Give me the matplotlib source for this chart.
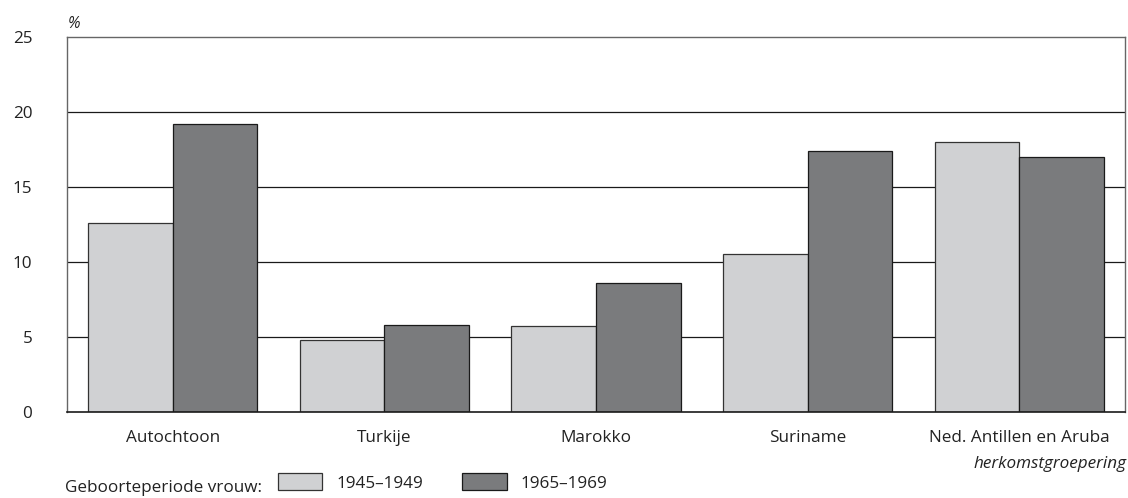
import numpy as np
import matplotlib.pyplot as plt

plt.rcParams['font.family'] = ['Open Sans', 'DejaVu Sans']

groepen = ['Autochtoon', 'Turkije', 'Marokko', 'Suriname', 'Ned. Antillen en Aruba']
periode_1945 = [12.6, 4.8, 5.7, 10.5, 18.0]
periode_1965 = [19.2, 5.8, 8.6, 17.4, 17.0]
reeks_labels = ['1945–1949', '1965–1969']
yticks = [0, 5, 10, 15, 20, 25]

fs = 12.3
tekst = '#222222'

fig = plt.figure(figsize=(11.28, 4.98), dpi=100)
ax = fig.add_axes([0.0594, 0.1727, 0.9379, 0.753])

x = np.arange(len(groepen))
w = 0.4
b1 = ax.bar(x - w/2, periode_1945, w, color='#d0d1d3', edgecolor='#333333', lw=0.9,
            label=reeks_labels[0], zorder=3)
b2 = ax.bar(x + w/2, periode_1965, w, color='#7a7b7d', edgecolor='#1a1a1a', lw=0.9,
            label=reeks_labels[1], zorder=3)

ax.set_xlim(-0.5, len(groepen) - 0.5)
ax.set_ylim(0, 25)
ax.set_yticks(yticks)
ax.set_xticks(x)
ax.set_xticklabels(groepen)
ax.tick_params(axis='y', length=0, pad=25, labelsize=fs, colors=tekst)
ax.tick_params(axis='x', length=0, pad=13, labelsize=fs, colors=tekst)
for lab in ax.get_yticklabels():
    lab.set_horizontalalignment('right')

# gridlijnen tussen 0 en 25
for v in yticks[1:-1]:
    ax.axhline(v, color='#1a1a1a', lw=0.9, zorder=1)

for s in ['left', 'right', 'top']:
    ax.spines[s].set_color('#666666')
    ax.spines[s].set_linewidth(1.0)
ax.spines['bottom'].set_color('#1a1a1a')
ax.spines['bottom'].set_linewidth(1.2)
ax.spines['bottom'].set_zorder(4)

fig.text(0.060, 0.944, '%', style='italic', fontsize=fs - 1, color=tekst, va='baseline')
fig.text(0.9985, 0.061, 'herkomstgroepering', style='italic', fontsize=fs,
         color=tekst, ha='right', va='baseline')
fig.text(0.0577, 0.012, 'Geboorteperiode vrouw:', fontsize=fs, color=tekst, va='baseline')

leg = fig.legend(handles=[b1, b2], labels=reeks_labels, ncol=2, loc='center left',
                 bbox_to_anchor=(0.2465, 0.031), frameon=False, fontsize=fs,
                 borderpad=0, borderaxespad=0,
                 handlelength=2.6, handleheight=1.15, handletextpad=0.8, columnspacing=2.3)
for t in leg.get_texts():
    t.set_color(tekst)

fig.savefig('out.png', dpi=100)
